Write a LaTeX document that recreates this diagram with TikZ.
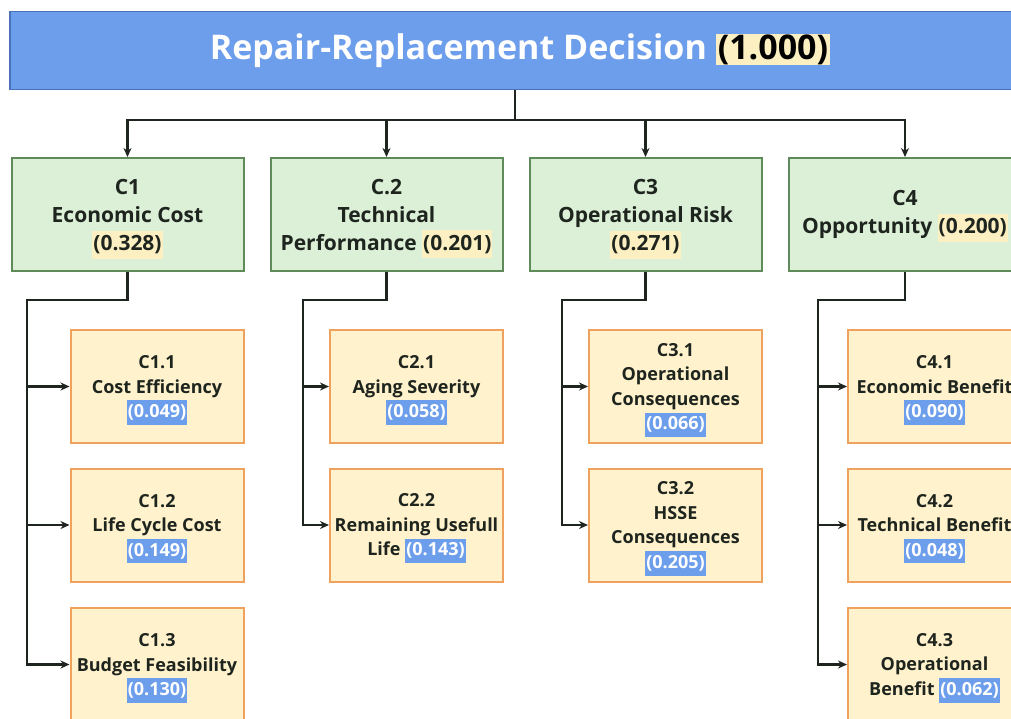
\documentclass[tikz,border=0pt]{standalone}
\usepackage{fontspec}
\setmainfont{Open Sans}
\usetikzlibrary{arrows.meta}

\definecolor{topblue}{HTML}{6D9EEB}
\definecolor{topline}{HTML}{4A72B8}
\definecolor{critfill}{HTML}{DCEFD7}
\definecolor{critline}{HTML}{5F8B5A}
\definecolor{subfill}{HTML}{FFF2CC}
\definecolor{subline}{HTML}{EFA25E}
\definecolor{hlyellow}{HTML}{FCEFC2}
\definecolor{inkgray}{HTML}{1E241E}

% weight highlights (smashed so they do not push the lines apart)
\newcommand{\hly}[1]{\smash{\setlength{\fboxsep}{0pt}\colorbox{hlyellow}{\strut\kern1pt#1\kern1pt}}}
\newcommand{\hlb}[1]{\smash{\setlength{\fboxsep}{0pt}\colorbox{topblue}{\strut\kern1pt\textcolor{white}{#1}\kern1pt}}}
\newcommand{\hlt}[1]{{\setlength{\fboxsep}{0pt}\colorbox{hlyellow}{\rule[-6pt]{0pt}{31pt}\kern2pt\textcolor{black}{#1}\kern2pt}}}

\tikzset{
  goalbox/.style={draw=topline, line width=1.6pt, fill=topblue, text=white,
    minimum width=1020pt, minimum height=78pt, inner sep=0pt,
    font=\fontsize{34}{38}\selectfont\bfseries},
  critbox/.style={draw=critline, line width=2pt, fill=critfill, text=inkgray,
    minimum width=232pt, minimum height=113pt, inner sep=0pt, align=center,
    font=\fontsize{21}{28}\selectfont\bfseries},
  subbox/.style={draw=subline, line width=2pt, fill=subfill, text=inkgray,
    minimum width=173pt, minimum height=113pt, inner sep=0pt, align=center,
    font=\fontsize{18}{24.5}\selectfont\bfseries},
  link/.style={draw=inkgray, line width=2.2pt},
  arw/.style={link, -{Stealth[length=9pt,width=8pt]}},
}

\begin{document}
\begin{tikzpicture}[x=1pt,y=-1pt]
\useasboundingbox (0,0) rectangle (1011,718);
\fill[white] (0,0) rectangle (1011,718);
\clip (0,0) rectangle (1011,718);

\node[goalbox] (goal) at (520,50.5) {Repair-Replacement Decision \hlt{(1.000)}}; % top

% criteria
\node[critbox] (c1) at (127.5,214.5) {C1\\Economic Cost\\\hly{(0.328)}};
\node[critbox] (c2) at (386.5,214.5) {C.2\\Technical\\Performance \hly{(0.201)}};
\node[critbox] (c3) at (645.5,214.5) {C3\\Operational Risk\\\hly{(0.271)}};
\node[critbox] (c4) at (905,214.5) {C4\\Opportunity \hly{(0.200)}};

% sub-criteria
\node[subbox] (c11) at (157,386.5) {C1.1\\Cost Efficiency\\\hlb{(0.049)}};
\node[subbox] (c12) at (157,525) {C1.2\\Life Cycle Cost\\\hlb{(0.149)}};
\node[subbox] (c13) at (157,664.5) {C1.3\\Budget Feasibility\\\hlb{(0.130)}};
\node[subbox] (c21) at (416.5,386.5) {C2.1\\Aging Severity\\\hlb{(0.058)}};
\node[subbox] (c22) at (416.5,525) {C2.2\\Remaining Usefull\\Life \hlb{(0.143)}};
\node[subbox] (c31) at (675.5,386.5) {C3.1\\Operational\\Consequences\\\hlb{(0.066)}};
\node[subbox] (c32) at (675.5,525) {C3.2\\HSSE\\Consequences\\\hlb{(0.205)}};
\node[subbox] (c41) at (934.5,386.5) {C4.1\\Economic Benefit\\\hlb{(0.090)}};
\node[subbox] (c42) at (934.5,525) {C4.2\\Technical Benefit\\\hlb{(0.048)}};
\node[subbox] (c43) at (934.5,664.5) {C4.3\\Operational\\Benefit \hlb{(0.062)}};

% branch points
\coordinate (bus) at (515,120);
\coordinate (j1) at (27,300);
\coordinate (j2) at (303,300);
\coordinate (j3) at (562,300);
\coordinate (j4) at (818,300);

\foreach \c in {c1,c2,c3,c4}
  \draw[arw] (bus -| goal.south) |- (bus -| \c.north) -- (\c.north);
\draw[link] (goal.south -| bus) -- (bus);

\foreach \s in {c11,c12,c13} \draw[arw] (c1.south) |- (j1) |- (\s.west);
\foreach \s in {c21,c22} \draw[arw] (c2.south) |- (j2) |- (\s.west);
\foreach \s in {c31,c32} \draw[arw] (c3.south) |- (j3) |- (\s.west);
\foreach \s in {c41,c42,c43} \draw[arw] (c4.south) |- (j4) |- (\s.west);

\end{tikzpicture}
\end{document}
